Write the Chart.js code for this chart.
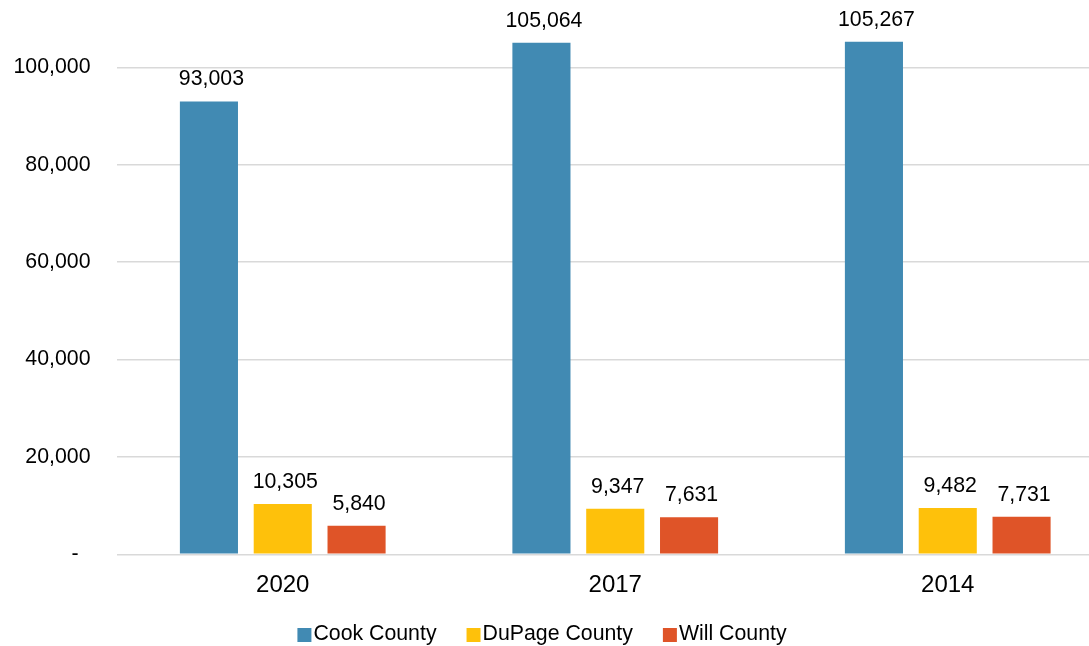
<!DOCTYPE html>
<html>
<head>
<meta charset="utf-8">
<script src="https://cdn.jsdelivr.net/npm/chart.js@4.4.1/dist/chart.umd.min.js"></script>
<style>
  html, body { margin: 0; padding: 0; background: #fff; overflow: hidden; }
  #wrap { position: relative; width: 1114px; height: 646px; }
</style>
</head>
<body>
<div id="wrap"><canvas id="chart"></canvas></div>
<script>
// Survey years shown along the category axis
const years = ['2020', '2017', '2014'];

// Counts per county for each year
const cookCounty   = [93003, 105064, 105267];
const dupageCounty = [10305, 9347, 9482];
const willCounty   = [5840, 7631, 7731];

const seriesNames  = ['Cook County', 'DuPage County', 'Will County'];
const seriesColors = ['#418AB3', '#FEC10B', '#DF5428'];

// Value-axis tick values that carry a label and gridline
const yTickValues = [0, 20000, 40000, 60000, 80000, 100000];

const FONT = '"Liberation Sans", Arial, sans-serif';
const SMALL = 21.3;
const nf = new Intl.NumberFormat('en-US');

// Value labels above each bar
const barValueLabels = {
  id: 'barValueLabels',
  afterDatasetsDraw(chart) {
    const ctx = chart.ctx;
    ctx.save();
    ctx.font = SMALL + 'px ' + FONT;
    ctx.fillStyle = '#000';
    ctx.textAlign = 'center';
    ctx.textBaseline = 'alphabetic';
    chart.data.datasets.forEach((ds, i) => {
      chart.getDatasetMeta(i).data.forEach((bar, j) => {
        ctx.fillText(nf.format(ds.data[j]), bar.x + 2.5, bar.y - 16);
      });
    });
    ctx.restore();
  }
};

// Legend row with small square swatches
const bottomLegend = {
  id: 'bottomLegend',
  afterDraw(chart) {
    const ctx = chart.ctx;
    ctx.save();
    ctx.font = SMALL + 'px ' + FONT;
    const box = 14, gap = 2, spacing = 30;
    const widths = chart.data.datasets.map(ds => ctx.measureText(ds.label).width);
    const total = widths.reduce((a, w) => a + box + gap + w, 0) + spacing * (widths.length - 1);
    let x = 542 - total / 2;
    const baseY = 640;
    chart.data.datasets.forEach((ds, i) => {
      ctx.fillStyle = ds.backgroundColor;
      ctx.fillRect(x, 628, box, box);
      ctx.fillStyle = '#000';
      ctx.textAlign = 'left';
      ctx.textBaseline = 'alphabetic';
      ctx.fillText(ds.label, x + box + gap, baseY);
      x += box + gap + widths[i] + spacing;
    });
    ctx.restore();
  }
};

const seriesData = [cookCounty, dupageCounty, willCounty];

new Chart(document.getElementById('chart'), {
  type: 'bar',
  data: {
    labels: years,
    datasets: seriesData.map((values, i) => ({
      label: seriesNames[i],
      data: values,
      backgroundColor: seriesColors[i],
      borderWidth: 0,
      categoryPercentage: 0.666,
      barPercentage: 0.787
    }))
  },
  options: {
    responsive: true,
    maintainAspectRatio: false,
    animation: false,
    layout: { padding: { top: 18.6, right: 0, bottom: 0, left: 0 } },
    plugins: {
      legend: { display: false },
      tooltip: { enabled: false }
    },
    scales: {
      x: {
        grid: { display: false },
        border: { display: false },
        ticks: {
          color: '#000',
          font: { family: FONT, size: 24 },
          padding: 9,
          maxRotation: 0
        },
        afterFit(scale) {
          scale.height = 91.7;
          scale.paddingLeft = 0;
          scale.paddingRight = 0;
        }
      },
      y: {
        min: 0,
        max: 110000,
        afterBuildTicks(scale) {
          scale.ticks = yTickValues.map(v => ({ value: v }));
        },
        grid: { color: '#D9D9D9', lineWidth: 1.4, drawTicks: false },
        border: { display: false },
        ticks: {
          color: '#000',
          font: { family: FONT, size: SMALL },
          padding: 26,
          callback: v => (v === 0 ? '-  ' : nf.format(v))
        },
        afterFit(scale) {
          scale.width = 116.5;
          scale.paddingTop = 0;
          scale.paddingBottom = 0;
        }
      }
    }
  },
  plugins: [barValueLabels, bottomLegend]
});
</script>
</body>
</html>
